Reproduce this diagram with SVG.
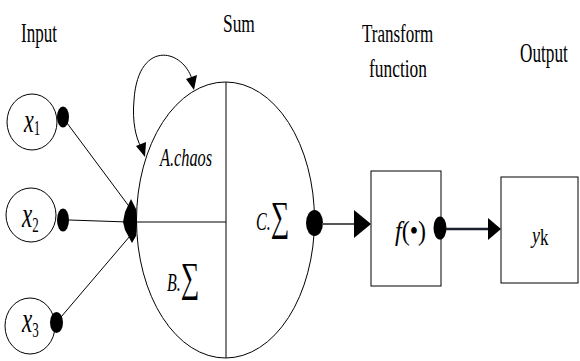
<svg xmlns="http://www.w3.org/2000/svg" width="580" height="361" viewBox="0 0 580 361">
<style>
  .ln{fill:none;stroke:#000;stroke-width:1}
  .dot{fill:#000;stroke:none}
  .head{fill:#000;stroke:none}
  .t{font-family:"Liberation Serif","Times New Roman",serif;fill:#000}
  .i{font-style:italic}
</style>
<rect width="580" height="361" fill="#fff"/>

<g id="titles">
  <text class="t" transform="translate(21,42) scale(1,1.6)" font-size="17">Input</text>
  <text class="t" transform="translate(223,32) scale(1,1.5)" font-size="17.4">Sum</text>
  <text class="t" transform="translate(362,42) scale(1,1.5)" font-size="17">Transform</text>
  <text class="t" transform="translate(369,77) scale(1,1.5)" font-size="17.4">function</text>
  <text class="t" transform="translate(520,62) scale(1,1.6)" font-size="17.2">Output</text>
</g>

<g id="input-x1">
  <ellipse class="ln" cx="32" cy="122" rx="25" ry="28"/>
  <text class="t" transform="translate(24,132) scale(1,1.55)" font-size="22"><tspan class="i">x</tspan><tspan font-size="13" dy="2">1</tspan></text>
  <ellipse class="dot" cx="63" cy="117" rx="6" ry="10.5"/>
</g>
<g id="input-x2">
  <ellipse class="ln" cx="31" cy="215" rx="25" ry="27"/>
  <text class="t" transform="translate(22,227) scale(1,1.55)" font-size="23"><tspan class="i">x</tspan><tspan font-size="13" dy="3.5">2</tspan></text>
  <ellipse class="dot" cx="63" cy="220" rx="6" ry="11.5"/>
</g>
<g id="input-x3">
  <ellipse class="ln" cx="30" cy="326" rx="25" ry="28"/>
  <text class="t" transform="translate(22,332) scale(1,1.55)" font-size="23"><tspan class="i">x</tspan><tspan font-size="13" dy="3.5">3</tspan></text>
  <ellipse class="dot" cx="56.5" cy="322.5" rx="6.5" ry="10.5"/>
</g>

<g id="sum">
  <ellipse class="ln" cx="225.5" cy="220" rx="89" ry="138"/>
  <line class="ln" x1="226" y1="82" x2="226" y2="358"/>
  <line class="ln" x1="137" y1="222" x2="226" y2="222"/>
  <text class="t i" transform="translate(160,166) scale(1,1.6)" font-size="16.3">A.chaos</text>
  <text class="t" transform="translate(167,291) scale(1,1.6)" font-size="16"><tspan class="i">B.</tspan><tspan font-size="26">∑</tspan></text>
  <text class="t" transform="translate(256,230) scale(1,1.6)" font-size="16"><tspan class="i">C.</tspan><tspan font-size="26">∑</tspan></text>
  <ellipse class="dot" cx="314.5" cy="223" rx="8.5" ry="13"/>
</g>

<g id="transform">
  <rect class="ln" x="371" y="171" width="70" height="115"/>
  <text class="t" transform="translate(395,240) scale(1,1.15)" font-size="24"><tspan class="i">f</tspan>(•)</text>
  <ellipse class="dot" cx="440" cy="228" rx="6.5" ry="11.5"/>
</g>

<g id="output">
  <rect class="ln" x="501" y="177" width="77" height="106"/>
  <text class="t" transform="translate(532,243) scale(1,1.3)" font-size="18"><tspan class="i">y</tspan><tspan font-size="17" dy="1.5">k</tspan></text>
</g>

<g id="connectors">
  <line class="ln" x1="67" y1="123" x2="131" y2="209"/>
  <line class="ln" x1="69" y1="220" x2="128" y2="222"/>
  <line class="ln" x1="61" y1="317" x2="130" y2="236"/>
  <polygon class="head" points="131,199 136,209 137,222 136,236 132,243 125,230 123,222 125,212"/>
  <path class="ln" d="M192,79 C182,48 138,40 134,100 C132,122 136,138 141,147"/>
  <polygon class="head" points="194,90 186,79 197,75"/>
  <polygon class="head" points="145,157 136,146 146,142"/>
  <line x1="322" y1="224" x2="356" y2="224" stroke="#555" stroke-width="2"/>
  <polygon class="head" points="354,210 371,224 354,238"/>
  <line x1="446" y1="229" x2="490" y2="229" stroke="#1a1f2e" stroke-width="2.5"/>
  <polygon class="head" points="488,218 501,229 488,240"/>
</g>
</svg>
